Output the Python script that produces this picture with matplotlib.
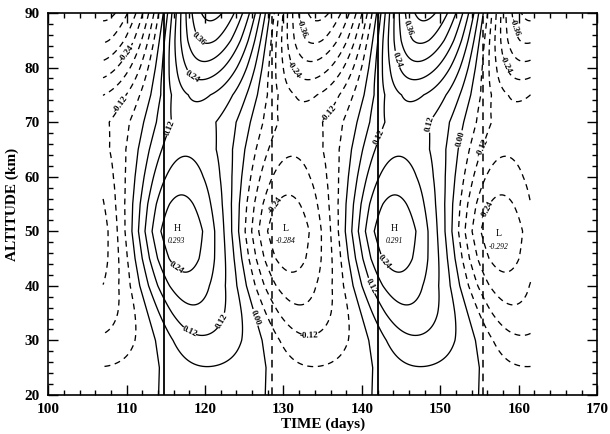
import matplotlib
matplotlib.use("Agg")
import matplotlib.pyplot as plt
import numpy as np

# wave: amplitude and time of maximum at each altitude
altitude = [20, 25, 30, 35, 40, 45, 50, 55, 60, 65, 70, 75, 80, 85, 90]
amplitude = [0.035, 0.058, 0.11, 0.165, 0.215, 0.265, 0.292, 0.255, 0.21,
             0.17, 0.15, 0.19, 0.28, 0.37, 0.44]
peak_time = [120.2, 120.3, 119.8, 118.8, 117.8, 117.2, 116.8, 116.9, 117.2,
             117.6, 118.3, 119.2, 119.8, 120.3, 120.8]
period = 27.2
skew = 0.08
t_start, t_end = 107.0, 161.5

levels = np.round(np.arange(-0.42, 0.421, 0.06), 2)
labelled = [-0.36, -0.24, -0.12, 0.0, 0.12, 0.24, 0.36]

high_times = [114.8, 142.1]
low_times = [128.5, 155.4]

extrema = [("H", 116.4, 50.5, "0.293"), ("L", 130.3, 50.5, "-0.284"),
           ("H", 144.1, 50.5, "0.291"), ("L", 157.4, 49.5, "-0.292")]

label_spots = [(109.3, 83.6), (109.0, 73.7), (119.0, 84.8), (118.8, 79.6),
               (116.0, 68.5), (115.8, 41.8), (118.0, 31.5), (122.7, 33.0),
               (125.8, 33.8), (133.3, 31.4), (129.1, 54.7), (133.3, 87.9),
               (132.8, 81.4), (135.8, 71.6), (142.6, 67.0), (145.6, 87.2),
               (144.8, 81.7), (148.8, 69.7), (152.4, 67.0), (154.4, 66.0),
               (155.4, 54.4), (142.6, 44.0), (141.2, 40.0), (160.4, 87.9),
               (159.6, 81.7)]

plt.rcParams['font.family'] = ['Liberation Serif', 'DejaVu Serif']

t = np.arange(t_start, t_end + 0.01, 0.1)
z = np.arange(20, 90.01, 0.25)
T, Z = np.meshgrid(t, z)
A = np.interp(Z, altitude, amplitude)
P0 = np.interp(Z, altitude, peak_time)
phi = 2 * np.pi * (T - P0) / period
psi = phi - skew * (1 - np.cos(2 * phi))
F = A * np.cos(psi)

fig = plt.figure(figsize=(6.1, 4.34), dpi=100)
ax = fig.add_axes([0.079, 0.090, 0.900, 0.880])


def styles(levs):
    return [(0, (4.5, 3.5)) if v < 0 else '-' for v in levs]


plain = [v for v in levels if not np.any(np.isclose(v, labelled))]
cs1 = ax.contour(T, Z, F, levels=plain, colors='k', linewidths=0.95)
cs1.set_linestyles(styles(cs1.levels))
cs2 = ax.contour(T, Z, F, levels=labelled, colors='k', linewidths=0.95)
cs2.set_linestyles(styles(cs2.levels))
labels = ax.clabel(cs2, fmt='%.2f', fontsize=6.5, inline=True,
                   inline_spacing=1, manual=label_spots)
for lab in labels:
    lab.set_fontweight('bold')

for x in high_times:
    ax.axvline(x, color='k', lw=1.3)
for x in low_times:
    ax.axvline(x, color='k', lw=1.1, ls=(0, (5, 4)))

for name, x, y, val in extrema:
    ax.text(x, y, name, ha='center', va='center', fontsize=7)
    ax.text(x, y - 2.3, val, ha='center', va='center', fontsize=5.5,
            style='italic')

ax.set_xlim(100, 170)
ax.set_ylim(20, 90)
ax.set_xticks(np.arange(100, 171, 10))
ax.set_yticks(np.arange(20, 91, 10))
ax.set_xticks(np.arange(100, 171, 2), minor=True)
ax.set_yticks(np.arange(20, 91, 2), minor=True)
ax.tick_params(which='both', direction='in', top=True, right=True, width=1)
ax.tick_params(which='major', length=7, labelsize=11, pad=6)
ax.tick_params(which='minor', length=3.5)
for lab in ax.get_xticklabels() + ax.get_yticklabels():
    lab.set_fontweight('bold')
for s in ax.spines.values():
    s.set_linewidth(1.2)

ax.set_xlabel('TIME (days)', fontsize=11, fontweight='bold', labelpad=1)
ax.set_ylabel('ALTITUDE (km)', fontsize=11, fontweight='bold', labelpad=4)

fig.savefig('out.png', dpi=100)
